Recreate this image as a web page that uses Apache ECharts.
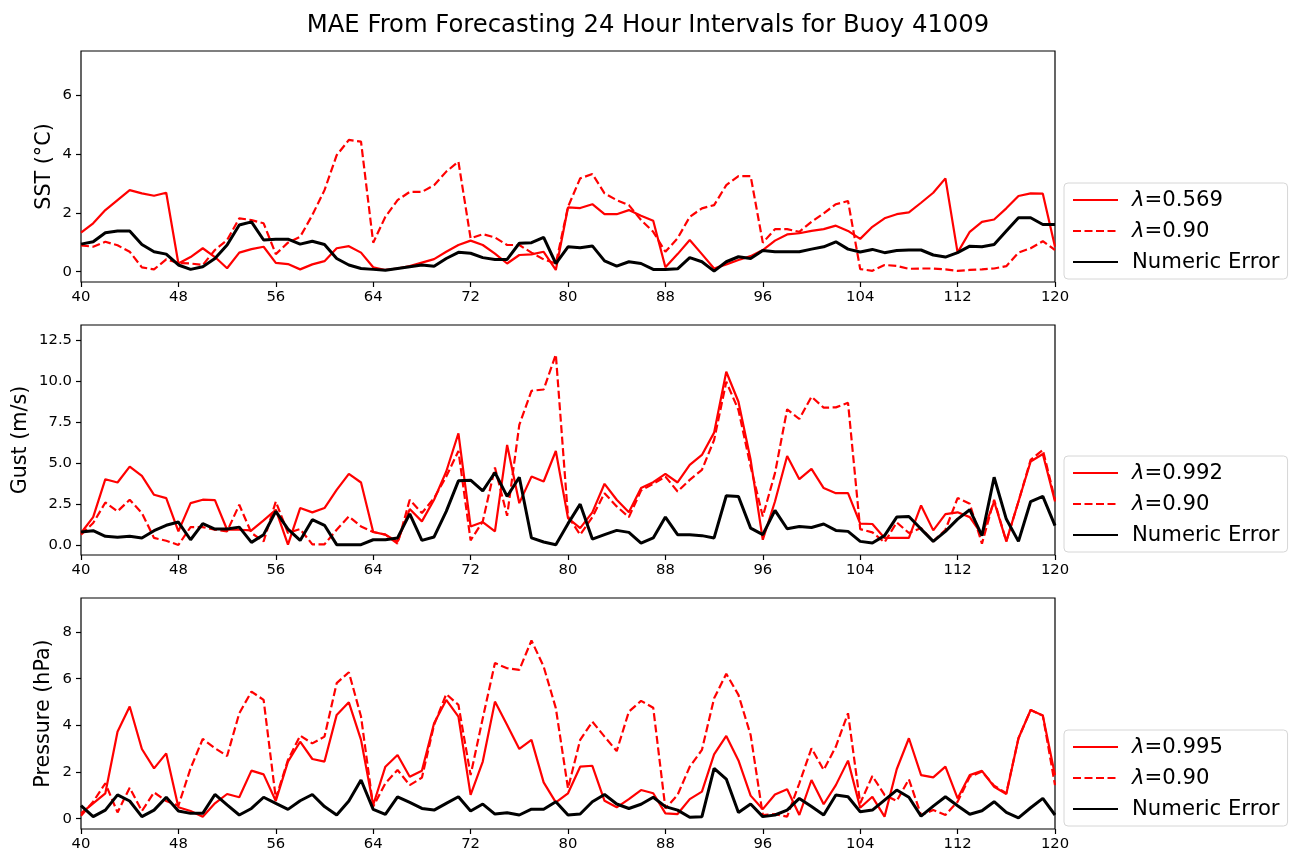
<!DOCTYPE html>
<html>
<head>
<meta charset="utf-8">
<title>MAE Buoy 41009</title>
<script src="https://cdn.jsdelivr.net/npm/echarts@6/dist/echarts.min.js"></script>
<style>
  html, body { margin: 0; padding: 0; background: #fff; }
  #chart { width: 1296px; height: 854px; }
</style>
</head>
<body>
<div id="chart"></div>
<script>
// forecast hours on the x axis
var hours = [];
for (var h = 40; h <= 120; h++) hours.push(h);

// SST (°C)
var sstA = [1.33, 1.65, 2.1, 2.44, 2.78, 2.67, 2.59, 2.69, 0.28, 0.5, 0.8, 0.5, 0.12, 0.65, 0.77, 0.85, 0.3, 0.26, 0.08, 0.25,
  0.36, 0.8, 0.87, 0.65, 0.15, 0.06, 0.11, 0.19, 0.31, 0.43, 0.68, 0.91, 1.06, 0.91, 0.62, 0.28, 0.57, 0.59, 0.68, 0.06,
  2.19, 2.17, 2.3, 1.96, 1.96, 2.1, 1.91, 1.74, 0.15, 0.6, 1.08, 0.6, 0.11, 0.25, 0.4, 0.53, 0.74, 1.06, 1.27, 1.31,
  1.39, 1.45, 1.57, 1.39, 1.12, 1.53, 1.82, 1.96, 2.02, 2.35, 2.69, 3.18, 0.65, 1.36, 1.7, 1.78, 2.16, 2.58, 2.67, 2.66, 0.85];
var sstB = [0.9, 0.85, 1.02, 0.9, 0.68, 0.15, 0.08, 0.42, 0.3, 0.28, 0.23, 0.74, 1.08, 1.82, 1.76, 1.65, 0.6, 0.99, 1.19, 1.93,
  2.78, 3.97, 4.49, 4.43, 0.99, 1.87, 2.44, 2.72, 2.72, 2.95, 3.41, 3.75, 1.14, 1.28, 1.17, 0.91, 0.91, 0.65, 0.42, 0.28,
  2.21, 3.18, 3.33, 2.67, 2.44, 2.27, 1.76, 1.36, 0.68, 1.14, 1.87, 2.16, 2.27, 2.95, 3.26, 3.26, 0.99, 1.45, 1.45, 1.36,
  1.7, 1.99, 2.3, 2.41, 0.09, 0.03, 0.23, 0.2, 0.1, 0.11, 0.11, 0.08, 0.03, 0.06, 0.08, 0.11, 0.19, 0.65, 0.8, 1.04, 0.74];
var sstN = [0.94, 1.02, 1.33, 1.39, 1.39, 0.93, 0.68, 0.6, 0.23, 0.08, 0.17, 0.45, 0.91, 1.59, 1.7, 1.08, 1.11, 1.11, 0.94, 1.04,
  0.93, 0.45, 0.23, 0.11, 0.08, 0.05, 0.11, 0.17, 0.23, 0.19, 0.45, 0.66, 0.63, 0.48, 0.42, 0.42, 0.97, 0.99, 1.17, 0.28,
  0.85, 0.82, 0.88, 0.37, 0.19, 0.34, 0.28, 0.08, 0.08, 0.1, 0.48, 0.34, 0.02, 0.34, 0.51, 0.45, 0.72, 0.68, 0.68, 0.68,
  0.77, 0.85, 1.02, 0.77, 0.67, 0.76, 0.65, 0.72, 0.74, 0.74, 0.57, 0.5, 0.65, 0.87, 0.85, 0.93, 1.39, 1.84, 1.84, 1.61, 1.61];

// Gust (m/s)
var gustA = [0.73, 1.7, 4.01, 3.81, 4.78, 4.21, 3.06, 2.86, 0.83, 2.55, 2.76, 2.74, 0.93, 0.93, 0.89, 1.5, 2.15, 0.02, 2.25, 1.99,
  2.25, 3.36, 4.34, 3.81, 0.79, 0.63, 0.2, 2.19, 1.44, 2.76, 4.48, 6.81, 1.13, 1.4, 0.83, 6.1, 2.55, 4.17, 3.87, 5.73,
  1.64, 1.03, 1.99, 3.73, 2.76, 1.99, 3.47, 3.83, 4.34, 3.81, 4.88, 5.49, 6.85, 10.56, 8.73, 5.19, 0.32, 2.65, 5.43, 4.01,
  4.64, 3.47, 3.16, 3.16, 1.3, 1.28, 0.43, 0.43, 0.43, 2.41, 0.89, 1.88, 1.99, 1.7, 0.63, 2.65, 0.22, 2.65, 5.09, 5.55, 2.65];
var gustB = [0.63, 1.34, 2.59, 2.05, 2.76, 1.95, 0.43, 0.26, 0.0, 1.09, 1.09, 0.93, 0.83, 2.45, 0.73, 0.22, 2.65, 0.73, 0.97, 0.04,
  0.04, 0.93, 1.74, 1.13, 0.79, 0.63, 0.08, 2.76, 1.95, 2.86, 4.17, 5.73, 0.28, 1.44, 4.72, 1.78, 7.32, 9.4, 9.48, 11.61,
  1.74, 0.63, 1.7, 3.16, 2.35, 1.7, 3.32, 3.73, 4.17, 3.26, 3.97, 4.58, 6.4, 9.95, 8.23, 4.78, 1.74, 4.38, 8.27, 7.68,
  9.04, 8.37, 8.39, 8.67, 0.97, 0.77, 0.16, 1.38, 0.73, 1.03, 0.22, 0.93, 2.86, 2.51, 0.08, 2.76, 0.22, 2.65, 5.19, 5.8, 2.76];
var gustN = [0.79, 0.87, 0.53, 0.47, 0.53, 0.43, 0.87, 1.2, 1.4, 0.32, 1.3, 0.97, 0.97, 1.09, 0.16, 0.63, 2.05, 0.97, 0.28, 1.54,
  1.2, 0.02, 0.02, 0.02, 0.32, 0.32, 0.43, 1.9, 0.28, 0.49, 2.05, 3.91, 3.95, 3.3, 4.42, 2.96, 4.13, 0.43, 0.18, 0.02,
  1.3, 2.49, 0.36, 0.63, 0.89, 0.77, 0.12, 0.43, 1.7, 0.63, 0.63, 0.57, 0.43, 3.0, 2.96, 1.03, 0.63, 2.11, 0.99, 1.13,
  1.07, 1.28, 0.89, 0.83, 0.22, 0.12, 0.57, 1.7, 1.74, 0.97, 0.22, 0.83, 1.58, 2.15, 0.57, 4.13, 1.58, 0.22, 2.65, 2.96, 1.18];

// Pressure (hPa)
var presA = [0.23, 0.66, 1.09, 3.73, 4.81, 2.99, 2.16, 2.8, 0.49, 0.33, 0.09, 0.66, 1.06, 0.92, 2.06, 1.9, 0.76, 2.45, 3.3, 2.56,
  2.45, 4.45, 4.99, 3.38, 0.59, 2.23, 2.73, 1.8, 2.06, 4.09, 5.09, 4.38, 1.02, 2.45, 5.02, 4.02, 2.99, 3.38, 1.56, 0.7,
  1.09, 2.23, 2.27, 0.77, 0.49, 0.84, 1.23, 1.09, 0.23, 0.2, 0.84, 1.16, 2.76, 3.55, 2.5, 0.99, 0.41, 1.04, 1.26, 0.16,
  1.66, 0.62, 1.44, 2.49, 0.47, 0.94, 0.09, 2.12, 3.45, 1.87, 1.77, 2.23, 0.87, 1.87, 2.05, 1.37, 1.06, 3.45, 4.66, 4.42, 1.87];
var presB = [0.13, 0.73, 1.52, 0.27, 1.33, 0.33, 1.13, 0.76, 0.56, 2.16, 3.42, 3.02, 2.69, 4.52, 5.45, 5.09, 0.87, 2.52, 3.56, 3.23,
  3.52, 5.81, 6.28, 4.38, 0.52, 1.52, 2.09, 1.44, 1.76, 4.02, 5.34, 4.88, 1.87, 4.31, 6.67, 6.45, 6.38, 7.64, 6.52, 4.74,
  1.3, 3.38, 4.16, 3.52, 2.9, 4.59, 5.05, 4.76, 0.44, 1.02, 2.23, 2.95, 5.16, 6.21, 5.31, 3.59, 0.16, 0.2, 0.09, 1.52,
  3.02, 2.09, 3.09, 4.52, 0.66, 1.83, 1.02, 0.76, 1.69, 0.16, 0.37, 0.16, 0.73, 1.8, 2.02, 1.42, 1.09, 3.45, 4.66, 4.42, 1.44];
var presN = [0.56, 0.09, 0.37, 1.02, 0.76, 0.09, 0.37, 0.92, 0.33, 0.23, 0.23, 1.04, 0.59, 0.16, 0.44, 0.92, 0.66, 0.4, 0.77, 1.04,
  0.52, 0.16, 0.76, 1.66, 0.4, 0.19, 0.94, 0.7, 0.44, 0.37, 0.66, 0.94, 0.33, 0.63, 0.2, 0.26, 0.16, 0.41, 0.41, 0.73,
  0.16, 0.2, 0.73, 1.04, 0.63, 0.44, 0.62, 0.92, 0.52, 0.37, 0.06, 0.09, 2.16, 1.7, 0.27, 0.63, 0.09, 0.16, 0.37, 0.87,
  0.52, 0.16, 1.02, 0.94, 0.3, 0.37, 0.8, 1.23, 0.92, 0.11, 0.54, 0.94, 0.56, 0.19, 0.34, 0.73, 0.27, 0.04, 0.47, 0.87, 0.16];

// panel setup
var panelNames = ['SST (°C)', 'Gust (m/s)', 'Pressure (hPa)'];
var lambdaNames = ['λ=0.569', 'λ=0.992', 'λ=0.995'];
var yTicks = [[0, 2, 4, 6], [0, 2.5, 5, 7.5, 10, 12.5], [0, 2, 4, 6, 8]];
var panelData = [[sstA, sstB, sstN], [gustA, gustB, gustN], [presA, presB, presN]];

var font = '"DejaVu Sans", sans-serif';
var gridTop = [51, 325, 598];
var gridHeight = [231, 230, 231];
var yMin = [-0.35, -0.61, -0.44];
var yMax = [7.52, 13.41, 9.46];
var nameGap = [24, 48, 25];

function pairs(arr) {
  return hours.map(function (h, i) { return [h, arr[i]]; });
}

var grids = [], xAxes = [], yAxes = [], series = [], legends = [];
var legendFont = 21.2;

for (var p = 0; p < 3; p++) {
  grids.push({
    left: 81, right: 241, top: gridTop[p], height: gridHeight[p],
    show: true, borderColor: '#000', borderWidth: 1.2, backgroundColor: 'transparent'
  });
  xAxes.push({
    type: 'value', gridIndex: p, min: 40, max: 120, interval: 8,
    axisLine: { show: false, onZero: false },
    axisTick: { show: true, length: 5, lineStyle: { color: '#000', width: 1.2 } },
    axisLabel: { color: '#000', fontSize: 14.8, fontFamily: font, margin: 8 },
    splitLine: { show: false }
  });
  (function (ticks, idx) {
    yAxes.push({
      type: 'value', gridIndex: idx, min: yMin[idx], max: yMax[idx],
      name: panelNames[idx], nameLocation: 'middle', nameGap: nameGap[idx],
      nameMoveOverlap: false,
      nameTextStyle: { color: '#000', fontSize: 20.7, fontFamily: font, lineHeight: 24 },
      axisLine: { show: false },
      axisTick: { show: true, length: 5, customValues: ticks, lineStyle: { color: '#000', width: 1.2 } },
      axisLabel: {
        color: '#000', fontSize: 14.8, fontFamily: font, margin: 9, customValues: ticks,
        formatter: function (v) { return idx === 1 ? v.toFixed(1) : String(v); }
      },
      splitLine: { show: false }
    });
  })(yTicks[p], p);

  var d = panelData[p];
  series.push({
    name: lambdaNames[p], type: 'line', xAxisIndex: p, yAxisIndex: p,
    data: pairs(d[0]), symbol: 'none', animation: false,
    lineStyle: { color: '#ff0000', width: 2.2 }, itemStyle: { color: '#ff0000' }
  });
  series.push({
    name: 'λ=0.90', type: 'line', xAxisIndex: p, yAxisIndex: p,
    data: pairs(d[1]), symbol: 'none', animation: false,
    lineStyle: { color: '#ff0000', width: 2.2, type: [8, 3.5] }, itemStyle: { color: '#ff0000' }
  });
  series.push({
    name: 'Numeric Error', type: 'line', xAxisIndex: p, yAxisIndex: p,
    data: pairs(d[2]), symbol: 'none', animation: false,
    lineStyle: { color: '#000', width: 3 }, itemStyle: { color: '#000' }
  });

  // legend sits outside the axes, bottom aligned with it
  legends.push({
    data: [lambdaNames[p], 'λ=0.90', 'Numeric Error'],
    orient: 'vertical', left: 1064, top: gridTop[p] + gridHeight[p] - 99,
    itemWidth: 45, itemHeight: 14, itemGap: 9,
    padding: [6, 8, 6, 8], borderColor: '#d6d6d6', borderWidth: 1, borderRadius: 4,
    backgroundColor: 'rgba(255,255,255,0.8)',
    selectedMode: false,
    itemStyle: { color: 'rgba(0,0,0,0)', borderWidth: 0, opacity: 0 },
    formatter: function (name) {
      if (name.charAt(0) === 'λ') return '{g|}{i|λ}{t|' + name.slice(1) + '}';
      return '{g|}{t|' + name + '}';
    },
    textStyle: {
      color: '#000', fontSize: legendFont, fontFamily: font, lineHeight: 22,
      rich: {
        g: { width: 9, lineHeight: 22 },
        i: { fontStyle: 'italic', fontSize: legendFont, fontFamily: font, lineHeight: 22, color: '#000' },
        t: { fontSize: legendFont, fontFamily: font, lineHeight: 22, color: '#000' }
      }
    }
  });
}

var chart = echarts.init(document.getElementById('chart'));
chart.setOption({
  backgroundColor: '#fff',
  animation: false,
  title: {
    text: 'MAE From Forecasting 24 Hour Intervals for Buoy 41009',
    left: 'center', top: 9,
    textStyle: { color: '#000', fontSize: 24.3, fontWeight: 'normal', fontFamily: font }
  },
  grid: grids,
  xAxis: xAxes,
  yAxis: yAxes,
  legend: legends,
  series: series
});
</script>
</body>
</html>
